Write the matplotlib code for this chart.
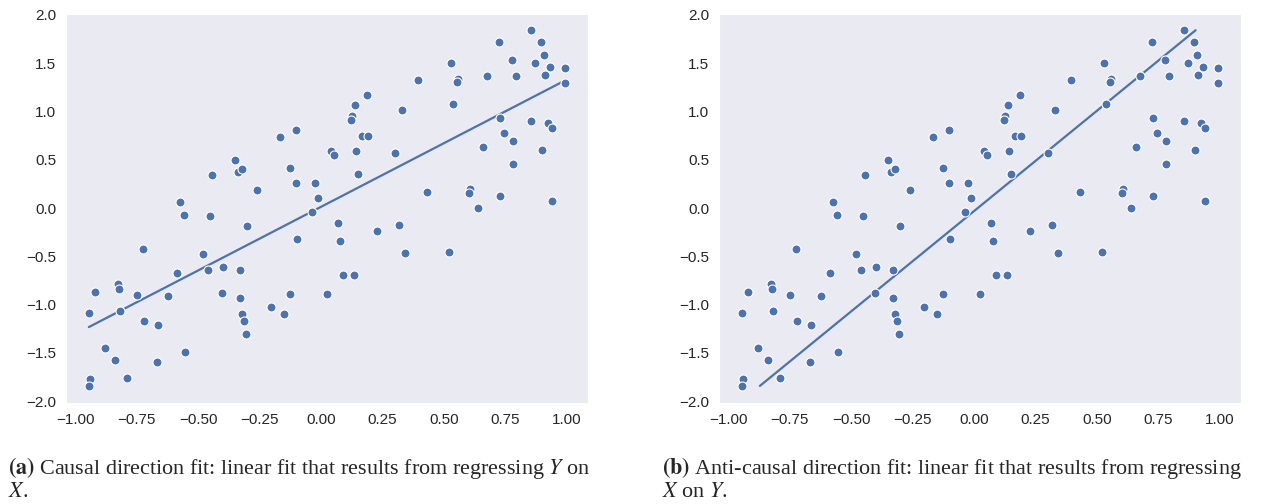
import numpy as np
import matplotlib
matplotlib.use('Agg')
import matplotlib.pyplot as plt
import seaborn as sns

# points (same data in both panels)
x_vals = [
    -0.573, -0.442, -0.349, -0.339, -0.320, -0.262, -0.167, -0.103, -0.126, -0.104,
    -0.024, -0.013, 0.041, 0.054, 0.149, 0.142, 0.168, 0.192, 0.127, 0.123,
    0.138, 0.186, 0.302, 0.329, 0.394, 0.430, 0.530, 0.557, 0.551, 0.535,
    0.604, 0.602, 0.638, 0.660, 0.676, 0.725, 0.729, 0.744, 0.779, 0.729,
    0.782, 0.778, 0.791, 0.854, 0.869, 0.894, 0.908, 0.911, 0.932, 0.854,
    0.900, 0.923, 0.939, 0.938, 0.990, 0.992, -0.035, 0.068, 0.077, 0.228,
    0.316, 0.341, 0.089, 0.133, 0.024, 0.518, -0.558, -0.450, -0.302, -0.099,
    -0.725, -0.480, -0.585, -0.459, -0.400, -0.331, -0.920, -0.825, -0.822, -0.747,
    -0.622, -0.401, -0.329, -0.944, -0.817, -0.718, -0.665, -0.322, -0.313, -0.305,
    -0.202, -0.152, -0.127, -0.879, -0.839, -0.790, -0.667, -0.554, -0.939, -0.942,
]
y_vals = [
    0.066, 0.342, 0.501, 0.373, 0.400, 0.187, 0.740, 0.812, 0.418, 0.259,
    0.259, 0.107, 0.587, 0.553, 0.353, 0.594, 0.743, 0.750, 0.950, 0.916,
    1.072, 1.172, 0.566, 1.020, 1.328, 0.169, 1.507, 1.341, 1.310, 1.079,
    0.197, 0.156, 0.003, 0.633, 1.369, 1.725, 0.934, 0.781, 0.695, 0.120,
    0.460, 1.538, 1.365, 1.842, 1.507, 1.722, 1.587, 1.380, 1.459, 0.898,
    0.598, 0.882, 0.826, 0.073, 1.452, 1.290, -0.046, -0.160, -0.339, -0.235,
    -0.176, -0.471, -0.695, -0.692, -0.892, -0.456, -0.077, -0.080, -0.184, -0.322,
    -0.426, -0.481, -0.671, -0.643, -0.612, -0.647, -0.871, -0.785, -0.840, -0.903,
    -0.913, -0.882, -0.937, -1.089, -1.072, -1.169, -1.211, -1.100, -1.166, -1.304,
    -1.024, -1.096, -0.892, -1.452, -1.574, -1.760, -1.591, -1.491, -1.774, -1.843,
]

captions = [
    (r'$\mathbf{(a)}$ Causal direction fit: linear fit that results from regressing $Y$ on' + '\n' + r'$X$.'),
    (r'$\mathbf{(b)}$ Anti-causal direction fit: linear fit that results from regressing' + '\n' + r'$X$ on $Y$.'),
]

sns.set_style('dark')
plt.rcParams['font.family'] = ['Liberation Sans', 'DejaVu Sans']
plt.rcParams['mathtext.fontset'] = 'stix'

BLUE = '#4C72B0'

x = np.array(x_vals)
y = np.array(y_vals)

fig = plt.figure(figsize=(12.64, 5.04), dpi=100)
ax_a = fig.add_axes([66 / 1264, 101 / 504, 522 / 1264, 389 / 504])
ax_b = fig.add_axes([719 / 1264, 101 / 504, 522 / 1264, 389 / 504])

# (a) regress Y on X
k, b = np.polyfit(x, y, 1)
xs = np.array([x.min(), x.max()])
ax_a.plot(xs, k * xs + b, color=BLUE, lw=1.6, zorder=2)

# (b) regress X on Y
k2, b2 = np.polyfit(y, x, 1)
ys = np.array([y.min(), y.max()])
ax_b.plot(k2 * ys + b2, ys, color=BLUE, lw=1.6, zorder=2)

for ax in (ax_a, ax_b):
    ax.scatter(x, y, s=42, color=BLUE, edgecolor='white', linewidth=0.8, zorder=3)
    ax.set_xticks(np.arange(-1.0, 1.01, 0.25))
    ax.set_yticks(np.arange(-2.0, 2.01, 0.5))
    ax.set_xticklabels([f'{t:.2f}'.replace('-', '\u2212') for t in np.arange(-1.0, 1.01, 0.25)])
    ax.set_yticklabels([f'{t:.1f}'.replace('-', '\u2212') for t in np.arange(-2.0, 2.01, 0.5)])
    ax.tick_params(labelsize=11, colors='#262626')
    ax.set_xlim(-1.037, 1.085)
    ax.set_ylim(-2.02, 2.01)

# captions below each panel (baseline of the last line)
serif = ['Liberation Serif', 'DejaVu Serif']
fig.text(8 / 1264, 1 - 497 / 504, captions[0], fontsize=15.9, family=serif,
         va='baseline', ha='left', linespacing=1.12)
fig.text(662 / 1264, 1 - 497 / 504, captions[1], fontsize=15.9, family=serif,
         va='baseline', ha='left', linespacing=1.12)

fig.savefig('out.png', dpi=100)
